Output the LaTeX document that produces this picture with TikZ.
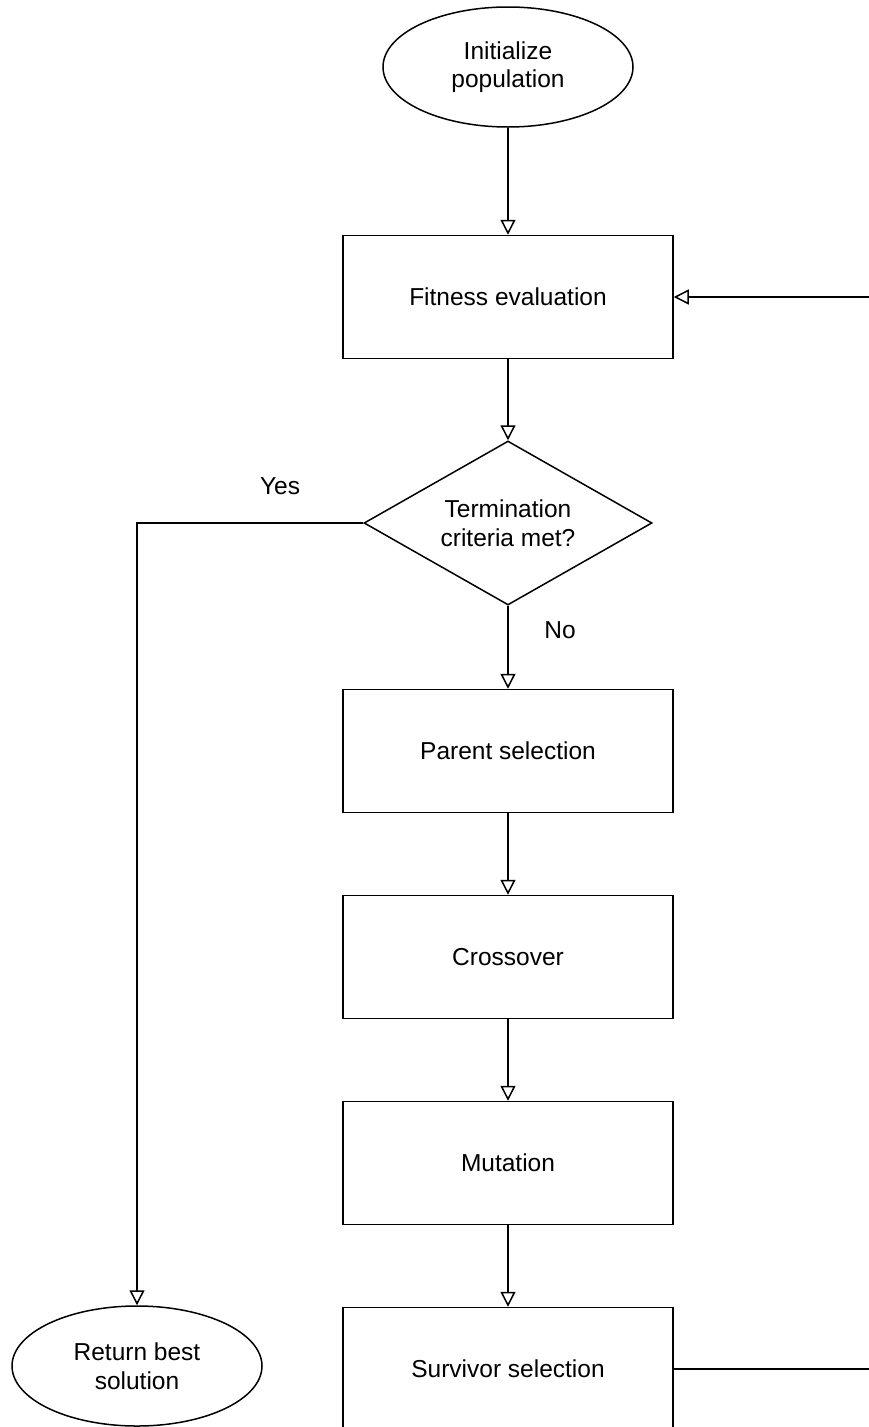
\documentclass[tikz,border=0pt]{standalone}
\usepackage{fontspec}
\setmainfont{Liberation Sans}
\usetikzlibrary{shapes.geometric,arrows.meta}
\tikzset{
  every node/.style={font=\fontsize{24.5}{28.5}\selectfont, align=center, inner sep=0pt},
  base/.style={draw=black, line width=1.5pt},
  procbox/.style={base, rectangle, minimum width=330, minimum height=123},
  term/.style={base, ellipse, minimum width=250, minimum height=120},
  decide/.style={base, diamond, shape aspect=1.756, minimum width=288, minimum height=164},
  conn/.style={line width=1.5pt, -{Triangle[open, length=15, width=15, line width=1.5pt]}},
  plain/.style={line width=1.5pt}
}
\begin{document}
\begin{tikzpicture}[x=1pt, y=-1pt]
\useasboundingbox (0,0) rectangle (869,1427);
\clip (0,0) rectangle (869,1427);
\node[term] (ini) at (508,67) {Initialize\\population};
\node[procbox] (fit) at (508,297) {Fitness evaluation};
\node[decide] (dec) at (508,523) {Termination\\criteria met?};
\node[procbox] (par) at (508,751) {Parent selection};
\node[procbox] (cro) at (508,957) {Crossover};
\node[procbox] (mut) at (508,1163) {Mutation};
\node[procbox] (sur) at (508,1369) {Survivor selection};
\node[term] (ret) at (137,1366) {Return best\\solution};
\node (yes) at (280,486) {Yes};
\node (no) at (560,630) {No};
\coordinate (rb) at (920,1369);
\coordinate (rt) at (920,297);
\draw[conn] (ini.south) -- (fit.north);
\draw[conn] (fit.south) -- (dec.north);
\draw[conn] (dec.west) -| (ret.north);
\draw[conn] (dec.south) -- (par.north);
\draw[conn] (par.south) -- (cro.north);
\draw[conn] (cro.south) -- (mut.north);
\draw[conn] (mut.south) -- (sur.north);
\draw[conn] (sur.east) -- (rb) -- (rt) -- (fit.east);
\end{tikzpicture}
\end{document}
